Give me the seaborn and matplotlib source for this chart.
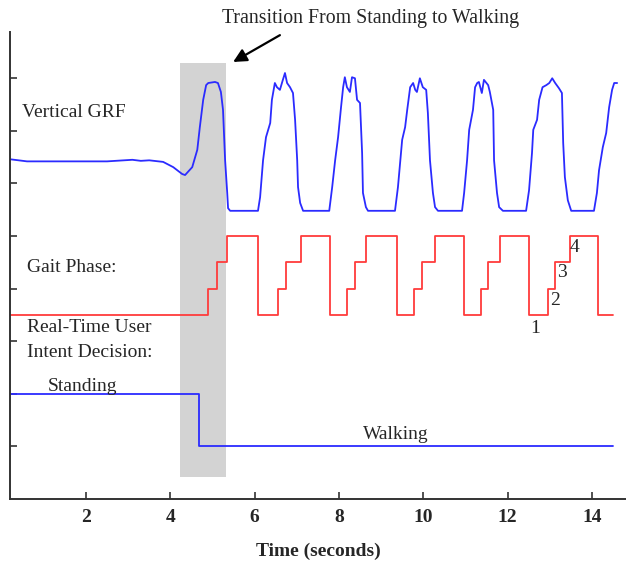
import matplotlib
matplotlib.use("Agg")
import matplotlib.pyplot as plt
import seaborn as sns
import pandas as pd
import numpy as np

# ---------------- data ----------------
grf_time = [0.20, 0.60, 1.00, 1.50, 2.00, 2.50, 3.10, 3.30, 3.50, 3.83, 4.07, 4.28, 4.35,
            4.52, 4.64, 4.70, 4.78, 4.85, 4.90, 5.06, 5.13, 5.20, 5.25, 5.30, 5.35, 5.37, 5.42,
            6.08, 6.13, 6.20, 6.27, 6.37, 6.41, 6.48, 6.53, 6.60, 6.67, 6.72, 6.77, 6.84, 6.91,
            6.96, 7.01, 7.03, 7.08, 7.15,
            7.77, 7.84, 7.91, 7.98, 8.05, 8.10, 8.14, 8.19, 8.26, 8.31, 8.38, 8.43, 8.50, 8.55,
            8.57, 8.64, 8.69,
            9.33, 9.40, 9.50, 9.57, 9.62, 9.69, 9.76, 9.81, 9.85, 9.92, 9.99, 10.07, 10.11,
            10.16, 10.23, 10.28, 10.35,
            10.92, 10.97, 11.04, 11.09, 11.18, 11.23, 11.28, 11.32, 11.39, 11.44, 11.54, 11.58,
            11.66, 11.68, 11.75, 11.80, 11.89,
            12.44, 12.51, 12.58, 12.61, 12.70, 12.75, 12.83, 12.92, 12.99, 13.06, 13.13, 13.22,
            13.29, 13.32, 13.36, 13.43, 13.51,
            14.05, 14.12, 14.17, 14.26, 14.34, 14.41, 14.48, 14.53, 14.60]
grf_value = [6.46, 6.42, 6.42, 6.42, 6.42, 6.42, 6.45, 6.43, 6.44, 6.41, 6.31, 6.18, 6.16,
             6.31, 6.64, 7.07, 7.59, 7.87, 7.91, 7.93, 7.91, 7.74, 7.40, 6.44, 5.82, 5.53, 5.48,
             5.48, 5.74, 6.44, 6.88, 7.15, 7.59, 7.91, 7.83, 7.78, 7.97, 8.10, 7.91, 7.83, 7.72,
             7.21, 6.44, 5.93, 5.63, 5.48,
             5.48, 5.93, 6.44, 6.88, 7.45, 7.83, 8.02, 7.83, 7.74, 8.02, 8.00, 7.59, 7.53, 6.58,
             5.82, 5.55, 5.48,
             5.48, 5.93, 6.83, 7.07, 7.40, 7.83, 7.91, 7.78, 7.74, 8.00, 7.83, 7.78, 7.34,
             6.44, 5.82, 5.55, 5.48,
             5.48, 5.82, 6.44, 7.02, 7.40, 7.83, 7.91, 7.93, 7.72, 7.97, 7.87, 7.74,
             7.40, 6.44, 5.82, 5.55, 5.48,
             5.48, 5.87, 6.58, 7.02, 7.21, 7.59, 7.83, 7.87, 7.91, 8.00, 7.91, 7.81,
             7.72, 6.77, 6.12, 5.68, 5.48,
             5.48, 5.82, 6.25, 6.69, 6.96, 7.45, 7.78, 7.91, 7.91]

phase_time = [0.20, 4.90, 5.11, 5.35, 6.09, 6.56, 6.75, 7.09, 7.80, 8.18, 8.37, 8.65,
              9.37, 9.77, 9.98, 10.29, 10.96, 11.36, 11.53, 11.81, 12.50, 12.95, 13.12,
              13.47, 14.14, 14.50]
phase_value = [1, 2, 3, 4, 1, 2, 3, 4, 1, 2, 3, 4, 1, 2, 3, 4, 1, 2, 3, 4, 1, 2, 3, 4, 1, 1]

decision_time = [0.20, 4.67, 14.50]
decision_state = ["Standing", "Walking", "Walking"]

transition_window = [4.23, 5.33]
x_ticks = [2, 4, 6, 8, 10, 12, 14]
phase_labels = ["1", "2", "3", "4"]

# ---------------- layout / style ----------------
sns.set_theme(style="white")
plt.rcParams["font.family"] = ["Liberation Serif", "DejaVu Serif"]

BLUE = "#2b2bff"
RED = "#ff3c3c"

fig = plt.figure(figsize=(6.26, 5.61), dpi=100)
ax = fig.add_axes([10 / 626, 1 - 499 / 561, 1 - 10 / 626, (499 - 32) / 561])

# transform of signals into stacked panel coordinates
grf_df = pd.DataFrame({"t": grf_time, "y": grf_value})
phase_df = pd.DataFrame({"t": phase_time, "phase": phase_value})
phase_df["y"] = 3.0 + 0.5 * phase_df["phase"]
state_level = {"Standing": 2.0, "Walking": 1.0}
dec_df = pd.DataFrame({"t": decision_time, "state": decision_state})
dec_df["y"] = dec_df["state"].map(state_level)

ax.fill_betweenx([0.42, 8.29], transition_window[0], transition_window[1],
                 color="#d3d3d3", lw=0, zorder=0)

sns.lineplot(data=grf_df, x="t", y="y", ax=ax, color=BLUE, lw=1.3,
             estimator=None, sort=False)
sns.lineplot(data=phase_df, x="t", y="y", ax=ax, color=RED, lw=1.3,
             estimator=None, sort=False, drawstyle="steps-post")
sns.lineplot(data=dec_df, x="t", y="y", ax=ax, color=BLUE, lw=1.3,
             estimator=None, sort=False, drawstyle="steps-post")

ax.set_xlim(0.197, 14.81)
ax.set_ylim(0, 8.88)
ax.set_xticks(x_ticks)
ax.set_xticklabels([str(v) for v in x_ticks], fontweight="bold", fontsize=14)
ax.set_yticks(range(1, 9))
ax.set_yticklabels([])
ax.tick_params(axis="both", direction="in", length=5, width=1.2, color="#333333",
               left=True, bottom=True)
ax.tick_params(axis="x", pad=7)
for s in ["top", "right"]:
    ax.spines[s].set_visible(False)
for s in ["left", "bottom"]:
    ax.spines[s].set_color("#333333")
    ax.spines[s].set_linewidth(1.4)

ax.set_xlabel("Time (seconds)", fontweight="bold", fontsize=14, labelpad=12)
ax.set_ylabel("")

fs = 14
ax.text(0.48, 7.34, "Vertical GRF", fontsize=fs, va="center", ha="left")
ax.text(0.60, 4.41, "Gait Phase:", fontsize=fs, va="center", ha="left")
ax.text(0.60, 3.27, "Real-Time User", fontsize=fs, va="center", ha="left")
ax.text(0.60, 2.79, "Intent Decision:", fontsize=fs, va="center", ha="left")
ax.text(1.10, 2.13, "Standing", fontsize=fs, va="center", ha="left")
ax.text(9.35, 1.22, "Walking", fontsize=fs, va="center", ha="center")
for lab, (px, py) in zip(phase_labels, [(12.65, 3.25), (13.13, 3.78), (13.29, 4.30), (13.60, 4.79)]):
    ax.text(px, py, lab, fontsize=fs, va="center", ha="center")

ax.text(8.76, 9.14, "Transition From Standing to Walking", fontsize=14.3,
        ha="center", va="center", clip_on=False)
ax.annotate("", xy=(5.49, 8.31), xytext=(6.60, 8.82), annotation_clip=False,
            arrowprops=dict(arrowstyle="-|>", color="black", lw=1.6,
                            mutation_scale=20, shrinkA=0, shrinkB=0))

fig.savefig("out.png", dpi=100)
